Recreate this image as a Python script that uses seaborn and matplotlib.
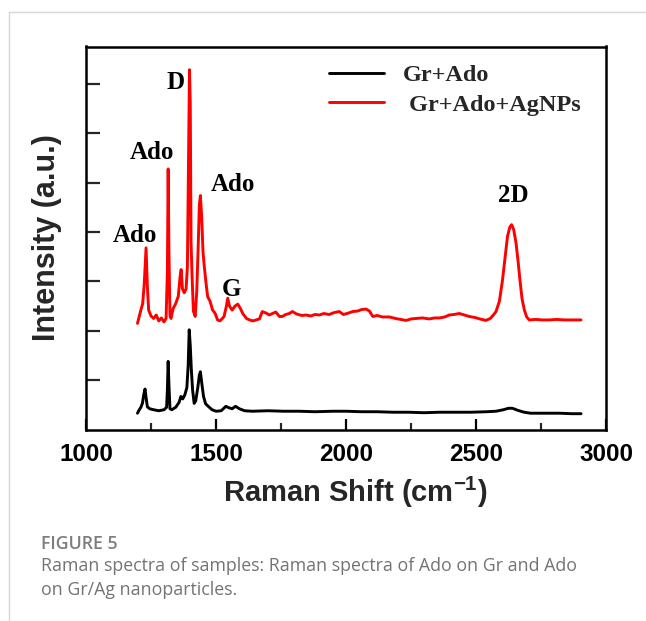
import numpy as np
import pandas as pd
import matplotlib
matplotlib.use("Agg")
import matplotlib.pyplot as plt
import seaborn as sns
from matplotlib.lines import Line2D
from matplotlib.ticker import MultipleLocator

# ---------------- data ----------------
series_names = ["Gr+Ado", " Gr+Ado+AgNPs"]

red_x = [1198, 1205, 1211, 1218, 1224, 1231, 1236, 1241, 1250, 1260, 1270, 1280, 1290, 1300,
         1308, 1313, 1316, 1319, 1323, 1327, 1335, 1345, 1355, 1362, 1366, 1371, 1378, 1385,
         1390, 1394, 1398, 1401, 1404, 1408, 1413, 1420, 1426, 1432, 1436, 1440, 1445, 1450,
         1455, 1462, 1468, 1477, 1487, 1497, 1506, 1515, 1523, 1531, 1540, 1545, 1552, 1562,
         1573, 1584, 1594, 1603, 1617, 1629, 1642, 1654, 1667, 1678, 1692, 1705, 1717, 1730,
         1744, 1755, 1768, 1782, 1794, 1810, 1830, 1846, 1865, 1880, 1897, 1915, 1935, 1955,
         1974, 1990, 2010, 2026, 2045, 2060, 2077, 2090, 2103, 2120, 2140, 2167, 2190, 2210,
         2231, 2250, 2270, 2295, 2320, 2340, 2359, 2380, 2397, 2415, 2436, 2455, 2474, 2495,
         2515, 2538, 2555, 2567, 2577, 2590, 2602, 2612, 2621, 2630, 2637, 2645, 2654, 2662,
         2669, 2677, 2686, 2695, 2705, 2730, 2755, 2782, 2810, 2840, 2870, 2904]
red_y = [2.15, 2.30, 2.42, 2.55, 2.95, 3.68, 2.90, 2.42, 2.30, 2.25, 2.32, 2.20, 2.26, 2.18,
         2.25, 3.20, 5.28, 3.60, 2.30, 2.25, 2.45, 2.55, 2.70, 3.10, 3.24, 2.85, 2.77, 2.85,
         3.30, 5.20, 7.29, 6.60, 3.80, 3.10, 2.40, 2.29, 2.80, 3.80, 4.55, 4.74, 4.30, 3.60,
         3.30, 2.95, 2.69, 2.60, 2.42, 2.35, 2.22, 2.20, 2.24, 2.29, 2.50, 2.66, 2.50, 2.42,
         2.50, 2.54, 2.45, 2.35, 2.25, 2.22, 2.20, 2.22, 2.24, 2.39, 2.36, 2.32, 2.35, 2.38,
         2.29, 2.29, 2.33, 2.35, 2.39, 2.34, 2.31, 2.32, 2.30, 2.33, 2.32, 2.35, 2.33, 2.37,
         2.39, 2.33, 2.36, 2.39, 2.40, 2.43, 2.44, 2.40, 2.29, 2.31, 2.28, 2.28, 2.25, 2.23,
         2.21, 2.24, 2.25, 2.26, 2.24, 2.26, 2.26, 2.28, 2.32, 2.33, 2.35, 2.32, 2.29, 2.27,
         2.24, 2.21, 2.25, 2.32, 2.39, 2.60, 3.03, 3.50, 3.91, 4.10, 4.15, 4.05, 3.78, 3.40,
         3.03, 2.65, 2.42, 2.28, 2.22, 2.23, 2.22, 2.22, 2.23, 2.22, 2.22, 2.22]

black_x = [1198, 1205, 1211, 1217, 1222, 1227, 1231, 1236, 1245, 1260, 1280, 1300, 1310, 1313,
           1316, 1319, 1323, 1330, 1345, 1358, 1365, 1372, 1380, 1388, 1393, 1397, 1401, 1405,
           1410, 1416, 1422, 1430, 1436, 1440, 1445, 1452, 1460, 1470, 1485, 1500, 1520, 1538,
           1550, 1562, 1575, 1590, 1610, 1640, 1700, 1760, 1820, 1880, 1950, 2000, 2060, 2120,
           2180, 2240, 2300, 2360, 2420, 2480, 2540, 2577, 2605, 2625, 2640, 2660, 2685, 2710,
           2760, 2820, 2870, 2904]
black_y = [0.33, 0.40, 0.45, 0.53, 0.70, 0.82, 0.65, 0.46, 0.42, 0.40, 0.38, 0.40, 0.45, 0.80,
           1.38, 0.90, 0.42, 0.40, 0.45, 0.55, 0.67, 0.62, 0.70, 0.85, 1.30, 2.02, 1.70, 1.23,
           0.80, 0.53, 0.58, 0.85, 1.10, 1.17, 0.95, 0.67, 0.52, 0.47, 0.40, 0.37, 0.38, 0.47,
           0.44, 0.42, 0.47, 0.42, 0.38, 0.37, 0.38, 0.37, 0.37, 0.36, 0.37, 0.37, 0.36, 0.36,
           0.35, 0.35, 0.34, 0.35, 0.35, 0.35, 0.36, 0.37, 0.40, 0.43, 0.43, 0.39, 0.35, 0.33,
           0.33, 0.33, 0.32, 0.32]

peak_labels = ["Ado", "Ado", "D", "Ado", "G", "2D"]
peak_label_x = [1190, 1253, 1343, 1567, 1559, 2643]
peak_label_y = [3.94, 5.62, 7.03, 4.96, 2.84, 4.74]

x_ticks = [1000, 1500, 2000, 2500, 3000]

# ---------------- figure ----------------
sns.set_theme(style="ticks")
plt.rcParams["font.family"] = ["Liberation Sans", "DejaVu Sans"]
plt.rcParams["mathtext.fontset"] = "custom"
plt.rcParams["mathtext.rm"] = "Liberation Sans:bold"
plt.rcParams["mathtext.bf"] = "Liberation Sans:bold"

fig = plt.figure(figsize=(6.46, 6.21), dpi=100)
fig.patch.set_facecolor("white")
ax = fig.add_axes([86 / 646, 1 - 429.5 / 621, 520 / 646, 383 / 621])

df = pd.concat([
    pd.DataFrame({"shift": black_x, "intensity": black_y, "sample": series_names[0]}),
    pd.DataFrame({"shift": red_x, "intensity": red_y, "sample": series_names[1]}),
], ignore_index=True)

sns.lineplot(data=df, x="shift", y="intensity", hue="sample",
             palette={series_names[0]: "black", series_names[1]: "#ff0000"},
             estimator=None, sort=False, linewidth=2.1, ax=ax, legend=True)

ax.set_xlim(1000, 3000)
ax.set_ylim(0, 7.76)
ax.set_xticks(x_ticks)
ax.xaxis.set_minor_locator(MultipleLocator(250))
ax.set_yticks([1, 2, 3, 4, 5, 6, 7])
ax.set_yticklabels([])
ax.tick_params(axis="x", which="major", direction="in", length=8, width=1.6,
               labelsize=17.5, pad=10, colors="black")
ax.tick_params(axis="x", which="minor", direction="in", length=5, width=1.6)
ax.tick_params(axis="y", which="major", direction="in", length=10, width=1.6)
for lab in ax.get_xticklabels():
    lab.set_fontweight("bold")
for sp in ax.spines.values():
    sp.set_linewidth(1.8)
    sp.set_color("black")

ax.set_xlabel(r"Raman Shift (cm$^{\mathbf{-1}}$)", fontsize=21, fontweight="bold", labelpad=7)
ax.xaxis.set_label_coords(0.518, -0.117)
ax.set_ylabel("Intensity (a.u.)", fontsize=22, fontweight="bold", labelpad=14)

handles, labels = ax.get_legend_handles_labels()
ax.legend(handles, labels, loc="upper left", bbox_to_anchor=(0.426, 1.011), frameon=False,
          prop={"family": "Liberation Serif", "weight": "bold", "size": 17.5},
          handlelength=2.26, handletextpad=0.78, labelspacing=0.31)

for t, xx, yy in zip(peak_labels, peak_label_x, peak_label_y):
    ax.text(xx, yy, t, ha="center", va="center", family="Liberation Serif",
            fontweight="bold", fontsize=18, color="black")

# outer frame lines
fig.add_artist(Line2D([9 / 646, 9 / 646], [0, 1 - 12 / 621], transform=fig.transFigure,
                      color="#d6d6d6", linewidth=1.0))
fig.add_artist(Line2D([9 / 646, 1], [1 - 12 / 621, 1 - 12 / 621], transform=fig.transFigure,
                      color="#d6d6d6", linewidth=1.0))

fig.text(41 / 646, 1 - 544 / 621, "FIGURE 5", family="Open Sans", fontweight="semibold",
         fontsize=12.8, color="#7d7d7d", va="center", ha="left")
fig.text(41 / 646, 1 - 566 / 621,
         "Raman spectra of samples: Raman spectra of Ado on Gr and Ado",
         family="Open Sans", fontsize=12.8, color="#737373", va="center", ha="left")
fig.text(41 / 646, 1 - 590 / 621, "on Gr/Ag nanoparticles.",
         family="Open Sans", fontsize=12.8, color="#737373", va="center", ha="left")

fig.savefig("out.png", dpi=100, facecolor="white")
